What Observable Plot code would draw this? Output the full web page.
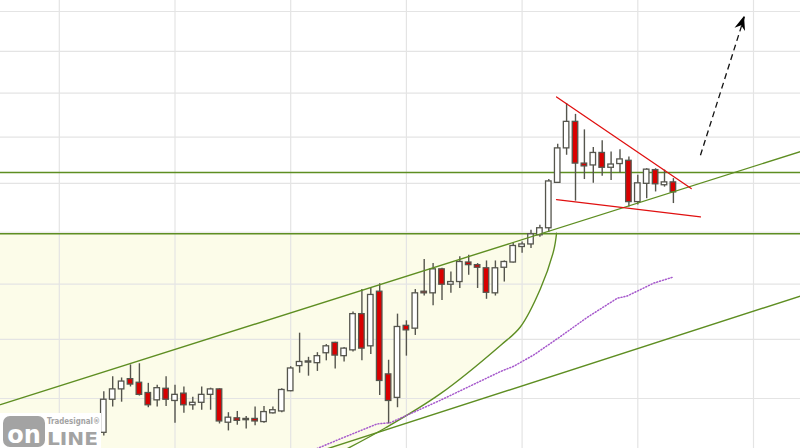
<!DOCTYPE html>
<html><head><meta charset="utf-8">
<script src="https://cdn.jsdelivr.net/npm/d3@7"></script>
<script src="https://cdn.jsdelivr.net/npm/@observablehq/plot@0.6"></script>
<style>
html,body{margin:0;padding:0;background:#fff;}
#chart{position:relative;width:800px;height:448px;overflow:hidden}
</style></head><body><div id="chart"></div>
<script>
// Weekly OHLC candles (index 0..64)
const open = [13.45,13.98,14.15,14.32,14.26,14.09,13.97,14.16,13.96,14.08,
13.89,13.93,14.06,14.15,13.61,13.68,13.67,13.67,13.62,13.76,
13.79,14.12,14.54,14.60,14.59,14.76,14.94,14.71,14.81,15.45,
14.88,15.86,14.40,14.01,15.24,15.19,15.86,15.83,16.28,15.99,
16.04,16.41,16.36,16.30,15.83,16.31,16.41,16.71,16.76,16.94,
17.08,18.01,18.75,19.34,18.42,18.38,18.65,18.33,18.41,18.48,
17.61,17.99,18.28,17.96,18.02];
const high = [14.11,14.36,14.34,14.56,14.58,14.25,14.22,14.36,14.22,14.19,
14.02,14.19,14.17,14.16,13.77,13.79,13.71,13.86,13.87,13.86,
14.16,14.53,15.11,14.69,14.77,14.91,14.95,14.86,15.49,15.90,
15.92,16.01,14.64,15.45,15.33,15.90,16.47,16.39,16.30,16.23,
16.52,16.55,16.39,16.44,16.44,16.44,16.78,16.81,17.04,17.14,
18.08,18.84,19.76,19.51,19.16,18.77,18.92,18.67,18.72,18.56,
18.17,18.31,18.31,18.28,18.10];
const low = [13.40,13.86,13.94,14.19,14.04,13.85,13.86,13.87,13.60,13.76,
13.81,13.81,13.81,13.59,13.48,13.57,13.51,13.56,13.60,13.75,
13.77,14.11,14.42,14.37,14.45,14.63,14.49,14.61,14.78,14.63,
14.74,14.05,13.59,13.85,14.71,15.07,15.78,15.60,15.70,15.83,
15.92,16.17,15.92,15.72,15.78,16.04,16.40,16.59,16.68,16.90,
17.00,18.00,18.60,17.63,18.08,18.00,18.15,18.06,18.22,17.51,
17.55,17.68,17.82,17.92,17.58];
const close = [13.98,14.15,14.28,14.23,14.06,13.89,14.17,13.98,14.06,13.89,
13.93,14.06,14.15,13.63,13.69,13.64,13.65,13.63,13.78,13.81,
14.14,14.50,14.61,14.62,14.71,14.88,14.72,14.84,15.45,14.84,
15.80,14.29,13.96,15.22,15.16,15.83,15.83,16.28,15.99,16.04,
16.42,16.36,16.31,15.84,16.30,16.42,16.73,16.76,16.96,17.08,
18.04,18.75,19.34,18.42,18.36,18.65,18.33,18.40,18.51,17.61,
18.00,18.29,17.98,18.02,17.81];

// Grid
const gridPrices = [14,15,16,17,18,19,20,21,22];
const gridWeeks = [-5,8,21,34,47,60,73];

// Moving average (dotted purple), read at points
const maIdx = [23,26.3,30.7,32.2,37.8,44.6,46.1,48.3,51.3,54.3,57.7,58.8,61.8,63.9];
const maVal = [13.15,13.34,13.59,13.61,13.97,14.45,14.54,14.73,15.05,15.39,15.74,15.78,16.02,16.13];

// Drawn annotations
const levels = [18.23, 16.97];
const upperTrendIdx = [-11.607, 78.281], upperTrendVal = [13.90, 18.68];
const lowerTrendIdx = [22.1, 78.281], lowerTrendVal = [13.07, 15.78];
const arcIdx = [26.6,31.67,37.83,44.6,46.8,49.07,50.56,50.87];
const arcVal = [13.15,13.53,14.08,14.90,15.22,15.92,16.65,16.98];
const triTopIdx = [50.87, 66.0], triTopVal = [19.91, 17.89];
const triBotIdx = [50.87, 67.04], triBotVal = [17.66, 17.31];
const arrowIdx = [67.04, 71.99], arrowVal = [18.60, 21.87];

const xDomain = [-11.607, 78.281];
const yDomain = [13.206, 22.285];

const candles = open.map((o,k)=>({i:k,o,h:high[k],l:low[k],c:close[k]}));
const pts = (I,V)=>I.map((i,k)=>({i,v:V[k]}));
const ma = pts(maIdx, maVal);
const arc = pts(arcIdx, arcVal);
const green = "#5e8e22";
const red = "#e01010";

const plot = Plot.plot({
  width: 800, height: 448, margin: 0,
  x: {type:"linear", domain: xDomain, axis: null},
  y: {type:"log", domain: yDomain, axis: null},
  color: {type:"identity"},
  marks: [
    Plot.areaX(arc, {y:"v", x1: () => xDomain[0], x2:"i", curve:"catmull-rom", fill:"#fcfce9", clip:true}),
    Plot.ruleY(gridPrices, {stroke:"#e4e4e4", strokeWidth:1.2}),
    Plot.ruleX(gridWeeks, {stroke:"#e4e4e4", strokeWidth:1.2}),
    Plot.ruleY(levels, {stroke: green, strokeWidth:1.6}),
    Plot.ruleX(candles, {x:"i", y1:"l", y2:"h", stroke:"#55554d", strokeWidth:1.4}),
    Plot.rect(candles, {x1: d=>d.i-0.31, x2: d=>d.i+0.31, y1:"o", y2:"c",
      fill: d => d.c >= d.o ? "#ffffff" : "#d90000", stroke:"#55554d", strokeWidth:1.3}),
    Plot.line(pts(upperTrendIdx, upperTrendVal), {x:"i", y:"v", stroke: green, strokeWidth:1.4, clip:true}),
    Plot.line(pts(lowerTrendIdx, lowerTrendVal), {x:"i", y:"v", stroke: green, strokeWidth:1.4, clip:true}),
    Plot.line(arc, {x:"i", y:"v", curve:"catmull-rom", stroke: green, strokeWidth:1.4, clip:true}),
    Plot.line(ma, {x:"i", y:"v", stroke:"#a659cc", strokeWidth:1.5, strokeDasharray:"1,2", clip:true}),
    Plot.line(pts(triTopIdx, triTopVal), {x:"i", y:"v", stroke: red, strokeWidth:1.3}),
    Plot.line(pts(triBotIdx, triBotVal), {x:"i", y:"v", stroke: red, strokeWidth:1.3}),
    Plot.link([0], {x1: ()=>arrowIdx[0], y1: ()=>arrowVal[0], x2: ()=>arrowIdx[1], y2: ()=>arrowVal[1],
      stroke:"#111", strokeWidth:1.3, strokeDasharray:"6,4"})
  ]
});
document.getElementById("chart").appendChild(plot);

// Arrowhead and logo
const svg = d3.select(plot);
const sx = plot.scale("x"), sy = plot.scale("y");
const xs = d3.scaleLinear(sx.domain, sx.range);
const ys = d3.scaleLog(sy.domain, sy.range);
const S = [xs(arrowIdx[0]), ys(arrowVal[0])], T = [xs(arrowIdx[1]), ys(arrowVal[1])];
const len = Math.hypot(T[0]-S[0], T[1]-S[1]);
const u = [(T[0]-S[0])/len, (T[1]-S[1])/len], n = [-u[1], u[0]];
const P = (a,b)=>[T[0]-a*u[0]+b*n[0], T[1]-a*u[1]+b*n[1]];
const head = [T, P(14,5.5), P(9.5,0), P(14,-5.5)];
svg.append("path").attr("d","M"+head.map(p=>p.join(",")).join("L")+"Z").attr("fill","#000");

const logo = svg.append("g").attr("font-family","DejaVu Sans, sans-serif").attr("font-weight","bold")
  .attr("text-anchor","start");
logo.append("rect").attr("x",0).attr("y",413).attr("width",101).attr("height",35).attr("fill","#fff");
logo.append("rect").attr("x",3).attr("y",416).attr("width",42).attr("height",31).attr("rx",7).attr("fill","#a3a3a3");
logo.append("text").attr("x",24).attr("y",443).attr("text-anchor","middle").attr("font-size",24)
  .attr("fill","#fff").text("on");
logo.append("text").attr("x",47).attr("y",445).attr("font-size",17).attr("fill","#a3a3a3")
  .attr("textLength",51).attr("lengthAdjust","spacingAndGlyphs").text("LINE");
logo.append("text").attr("x",47).attr("y",424).attr("font-size",8).attr("fill","#a3a3a3")
  .attr("textLength",53).attr("lengthAdjust","spacingAndGlyphs").text("Tradesignal®");
</script>
</body></html>
